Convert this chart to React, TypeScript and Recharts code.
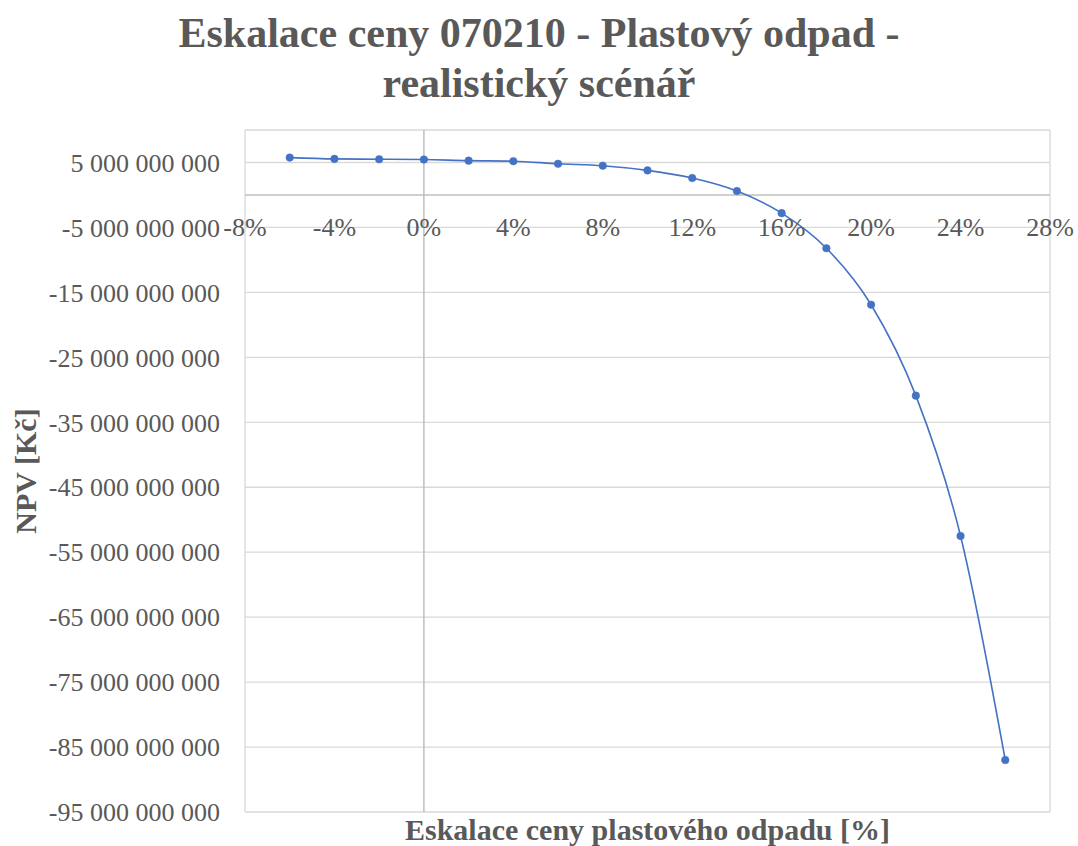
import React from 'react';
import {
  LineChart,
  Line,
  XAxis,
  YAxis,
  CartesianGrid,
  ReferenceLine,
  ReferenceDot,
} from 'recharts';

// Price escalation of plastic waste [%]
const escalation = [-6, -4, -2, 0, 2, 4, 6, 8, 10, 12, 14, 16, 18, 20, 22, 24, 26];
// Net present value [Kč]
const npv = [
  5.75e9, 5.55e9, 5.5e9, 5.45e9, 5.28e9, 5.2e9, 4.8e9, 4.5e9, 3.78e9, 2.6e9, 0.6e9,
  -2.8e9, -8.2e9, -16.9e9, -30.9e9, -52.5e9, -87.0e9,
];

const xTicks = [-8, -4, 0, 4, 8, 12, 16, 20, 24, 28];
const yTicks = [5e9, -5e9, -15e9, -25e9, -35e9, -45e9, -55e9, -65e9, -75e9, -85e9, -95e9];

const titleLines = ['Eskalace ceny 070210 - Plastový odpad -', 'realistický scénář'];
const xTitle = 'Eskalace ceny plastového odpadu [%]';
const yTitle = 'NPV [Kč]';

const data = escalation.map((x, i) => ({ x, npv: npv[i] }));

const FONT = "'Liberation Serif', 'Times New Roman', serif";
const TEXT = '#595959';
const BLUE = '#4472C4';

const formatCzk = (v: number) => {
  const sign = v < 0 ? '-' : '';
  const s = Math.round(Math.abs(v)).toString();
  return sign + s.replace(/\B(?=(\d{3})+(?!\d))/g, ' ');
};

// Rotated title of the value axis, centred on the plot height
const YTitle = (props: any) => {
  const vb = props.viewBox || {};
  const cx = vb.x + 25;
  const cy = vb.y + vb.height / 2;
  return (
    <text
      x={cx}
      y={cy}
      transform={`rotate(-90, ${cx}, ${cy})`}
      textAnchor="middle"
      dominantBaseline="central"
      fill={TEXT}
      style={{ fontFamily: FONT, fontWeight: 'bold', fontSize: 30 }}
    >
      {yTitle}
    </text>
  );
};

export default function App() {
  return (
    <div style={{ position: 'absolute', left: 0, top: 0, width: 1078, height: 846, background: '#fff' }}>
      <div
        style={{
          position: 'absolute',
          left: 0,
          top: 8,
          width: 1078,
          textAlign: 'center',
          fontFamily: FONT,
          fontWeight: 'bold',
          fontSize: 42,
          lineHeight: '50px',
          color: TEXT,
        }}
      >
        {titleLines.map((t) => (
          <div key={t}>{t}</div>
        ))}
      </div>
      <LineChart
        width={1078}
        height={846}
        data={data}
        margin={{ top: 130, right: 28, bottom: 0, left: 0 }}
        style={{ position: 'absolute', left: 0, top: 0 }}
      >
        <CartesianGrid stroke="#d9d9d9" strokeWidth={1.3} />
        <XAxis
          dataKey="x"
          type="number"
          domain={[-8, 28]}
          ticks={xTicks}
          tick={false}
          tickLine={false}
          axisLine={false}
          height={34}
          label={{
            value: xTitle,
            position: 'center',
            fill: TEXT,
            style: { fontFamily: FONT, fontWeight: 'bold', fontSize: 30 },
          }}
        />
        <YAxis
          type="number"
          domain={[-95e9, 10e9]}
          ticks={yTicks}
          width={245}
          tickSize={0}
          tickMargin={25}
          axisLine={false}
          tickLine={false}
          tickFormatter={formatCzk}
          tick={{ fill: TEXT, style: { fontFamily: FONT, fontSize: 26 } }}
          label={<YTitle />}
          interval={0}
        />
        <ReferenceLine y={0} stroke="#bfbfbf" strokeWidth={1.5} ifOverflow="visible" />
        <ReferenceLine x={0} stroke="#bfbfbf" strokeWidth={1.5} ifOverflow="visible" />
        {xTicks.map((t) => (
          <ReferenceDot
            key={t}
            x={t}
            y={0}
            r={0.5}
            fillOpacity={0}
            strokeOpacity={0}
            ifOverflow="visible"
            label={{
              value: `${t}%`,
              position: 'bottom',
              offset: 22,
              fill: TEXT,
              style: { fontFamily: FONT, fontSize: 26 },
            }}
          />
        ))}
        <Line
          type="monotone"
          dataKey="npv"
          stroke={BLUE}
          strokeWidth={1.6}
          dot={{ r: 3.8, fill: BLUE, stroke: BLUE, strokeWidth: 0.5 }}
          isAnimationActive={false}
        />
      </LineChart>
    </div>
  );
}
